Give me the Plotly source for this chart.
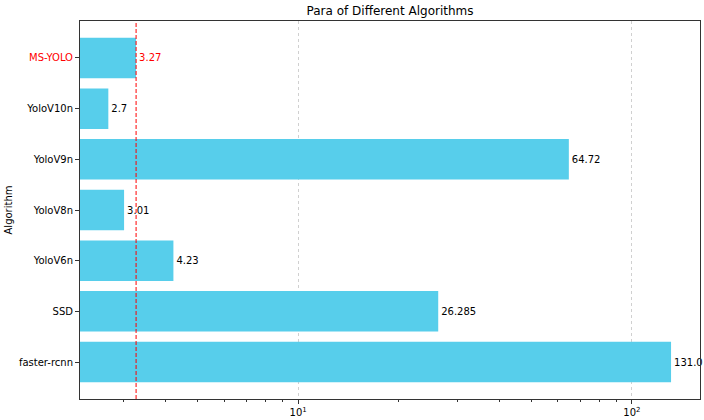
import plotly.graph_objects as go

algorithms = ["faster-rcnn", "SSD", "YoloV6n", "YoloV8n", "YoloV9n", "YoloV10n", "MS-YOLO"]
params = [131.0, 26.285, 4.23, 3.01, 64.72, 2.7, 3.27]
labels = ["131.0", "26.285", "4.23", "3.01", "64.72", "2.7", "3.27"]
ref_value = 3.27
minor_ticks = [3, 4, 5, 6, 7, 8, 9, 20, 30, 40, 50, 60, 70, 80, 90]

bar_color = "#57CEEB"
text_colors = ["red" if a == "MS-YOLO" else "black" for a in algorithms]
tick_text = [f"<span style='color:red'>{a}</span>" if a == "MS-YOLO" else a for a in algorithms]

fig = go.Figure()
fig.add_trace(go.Bar(
    y=algorithms, x=params, orientation="h",
    marker=dict(color=bar_color, line=dict(width=0)),
    width=0.8,
    text=labels, textposition="outside", constraintext="none",
    textfont=dict(color=text_colors, size=10, family="DejaVu Sans"),
    cliponaxis=False,
))
fig.add_shape(type="line", xref="x", yref="paper", x0=ref_value, x1=ref_value, y0=0, y1=1,
              line=dict(color="red", width=1, dash="4px,2px"), layer="above")

fig.update_layout(
    width=704, height=420,
    margin=dict(l=80, r=4, t=21, b=21, autoexpand=False),
    paper_bgcolor="white", plot_bgcolor="white",
    font=dict(family="DejaVu Sans", size=10, color="black"),
    title=dict(text="Para of Different Algorithms", x=0.554, xanchor="center", y=0.975, yanchor="middle",
               font=dict(size=12)),
    showlegend=False,
    bargap=0.2,
)
fig.update_xaxes(
    type="log", range=[0.3465, 2.204], automargin=False,
    tickvals=[10, 100], ticktext=["10<sup>1</sup>", "10<sup>2</sup>"],
    ticks="outside", ticklen=4, tickcolor="#333",
    minor=dict(ticks="outside", ticklen=2, tickcolor="#333", showgrid=False, tickvals=minor_ticks),
    showgrid=True, gridcolor="#D0D0D0", griddash="dot", gridwidth=1,
    showline=True, linecolor="#333", linewidth=1, mirror=True,
    zeroline=False,
)
fig.update_yaxes(
    range=[-0.73, 6.73], automargin=False,
    tickvals=algorithms, ticktext=tick_text,
    ticks="outside", ticklen=4, tickcolor="#333",
    showgrid=False,
    showline=True, linecolor="#333", linewidth=1, mirror=True,
    title=dict(text="Algorithm", standoff=4, font=dict(size=10)),
)

fig.write_html("out.html", config={"displayModeBar": False},
               post_script="document.body.style.margin='0';")
